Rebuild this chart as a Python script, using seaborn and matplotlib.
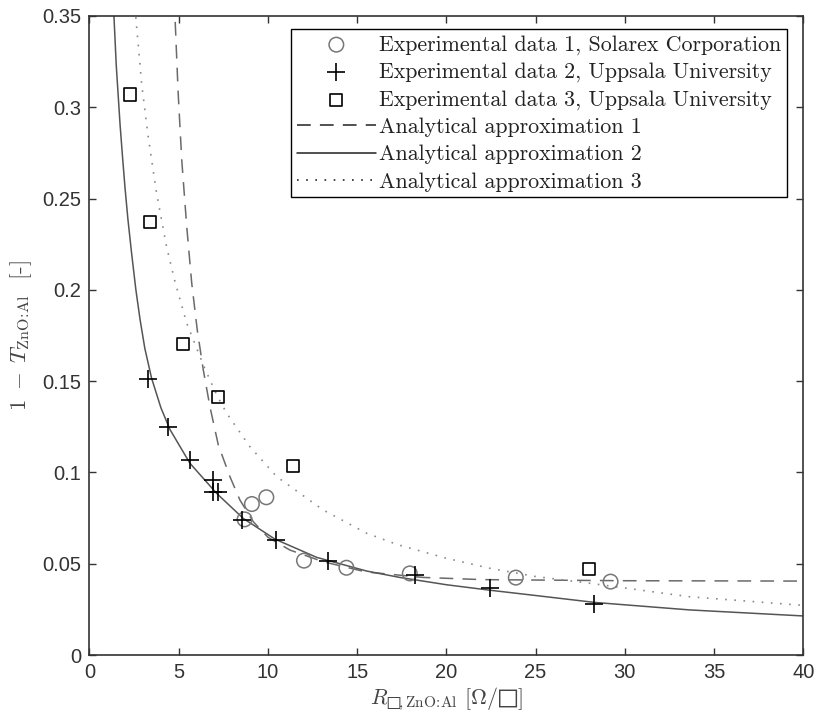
import matplotlib
matplotlib.use("Agg")
import matplotlib.pyplot as plt
import seaborn as sns
import pandas as pd

# Experimental data 1, Solarex Corporation
exp1_r = [8.69, 9.10, 9.91, 12.02, 14.40, 17.95, 23.89, 29.20]
exp1_t = [0.0743, 0.0827, 0.0864, 0.0517, 0.0478, 0.0447, 0.0424, 0.0402]

# Experimental data 2, Uppsala University
exp2_r = [3.27, 4.39, 5.66, 6.92, 6.92, 7.20, 8.54, 10.43, 13.37, 18.23, 22.47, 28.27]
exp2_t = [0.1512, 0.1247, 0.1068, 0.0959, 0.0895, 0.0895, 0.0739, 0.0630, 0.0515,
          0.0438, 0.0365, 0.0279]

# Experimental data 3, Uppsala University
exp3_r = [2.28, 3.40, 5.23, 7.20, 11.40, 28.0]
exp3_t = [0.307, 0.2373, 0.1702, 0.1413, 0.1037, 0.0469]

# Analytical approximation 1
app1_r = [4.70, 4.79, 4.97, 5.17, 5.45, 5.73, 6.04, 6.38, 6.75, 7.22, 7.87, 8.43,
          9.18, 10.0, 11.23, 13.1, 15.5, 18.7, 22.0, 29.9, 35.0, 40.0]
app1_t = [0.375, 0.35, 0.3077, 0.2711, 0.2346, 0.2036, 0.178, 0.156, 0.136, 0.115,
          0.0977, 0.0849, 0.0730, 0.0645, 0.0575, 0.0511, 0.0455, 0.0425, 0.0413,
          0.0407, 0.0406, 0.0405]

# Analytical approximation 2
app2_r = [1.30, 1.37, 1.50, 1.71, 1.85, 1.99, 2.15, 2.36, 2.60, 2.83, 3.10, 3.48,
          4.00, 4.51, 5.63, 7.13, 8.62, 10.39, 12.73, 15.53, 17.39, 20.0, 22.44,
          25.0, 28.32, 33.64, 40.0]
app2_t = [0.366, 0.350, 0.323, 0.291, 0.273, 0.256, 0.239, 0.220, 0.200, 0.184,
          0.168, 0.1516, 0.1355, 0.1235, 0.1050, 0.0885, 0.0748, 0.0635, 0.0535,
          0.0460, 0.0425, 0.0385, 0.0355, 0.0326, 0.0288, 0.0247, 0.0214]

# Analytical approximation 3
app3_r = [2.50, 2.59, 2.92, 3.29, 3.76, 4.32, 4.79, 5.45, 6.38, 7.13, 7.69, 8.99,
          10.49, 13.1, 15.53, 17.25, 20.0, 22.44, 25.0, 28.04, 33.64, 40.0]
app3_t = [0.36, 0.35, 0.3131, 0.2839, 0.2529, 0.2236, 0.2045, 0.1817, 0.1588, 0.1424,
          0.1324, 0.1141, 0.0977, 0.0794, 0.0667, 0.0605, 0.0530, 0.0475, 0.0430,
          0.0393, 0.0319, 0.0272]

x_ticks = [0, 5, 10, 15, 20, 25, 30, 35, 40]
y_ticks = [0, 0.05, 0.1, 0.15, 0.2, 0.25, 0.3, 0.35]
y_tick_labels = ["0", "0.05", "0.1", "0.15", "0.2", "0.25", "0.3", "0.35"]

sns.set_style("ticks")
plt.rcParams["mathtext.fontset"] = "cm"

fig = plt.figure(figsize=(8.18, 7.27), dpi=100)
ax = fig.add_axes([0.1094, 0.099, 0.8726, 0.879])

def frame(r, t):
    return pd.DataFrame({"r": r, "t": t})

sns.lineplot(data=frame(app1_r, app1_t), x="r", y="t", ax=ax, sort=False, estimator=None,
             color="#6a6a6a", lw=1.1, linestyle=(0, (9, 6)), label="Analytical approximation 1")
sns.lineplot(data=frame(app2_r, app2_t), x="r", y="t", ax=ax, sort=False, estimator=None,
             color="#555555", lw=1.1, label="Analytical approximation 2")
sns.lineplot(data=frame(app3_r, app3_t), x="r", y="t", ax=ax, sort=False, estimator=None,
             color="#8a8a8a", lw=1.2, linestyle=(0, (1, 4.5)), label="Analytical approximation 3")

sns.scatterplot(data=frame(exp1_r, exp1_t), x="r", y="t", ax=ax, marker="o", s=110,
                facecolor="none", edgecolor="#777777", linewidth=1.1,
                label="Experimental data 1, Solarex Corporation", zorder=3)
sns.scatterplot(data=frame(exp2_r, exp2_t), x="r", y="t", ax=ax, marker="+", s=150,
                color="black", linewidth=1.2,
                label="Experimental data 2, Uppsala University", zorder=3)
sns.scatterplot(data=frame(exp3_r, exp3_t), x="r", y="t", ax=ax, marker="s", s=75,
                facecolor="none", edgecolor="black", linewidth=1.2,
                label="Experimental data 3, Uppsala University", zorder=3)

ax.set_xlim(0, 40)
ax.set_ylim(0, 0.35)
ax.set_xticks(x_ticks)
ax.set_yticks(y_ticks)
ax.set_yticklabels(y_tick_labels)
ax.tick_params(direction="in", length=5, width=1, top=True, right=True,
               colors="#333333", labelsize=14.5, pad=6)
for lab in ax.get_xticklabels() + ax.get_yticklabels():
    lab.set_fontfamily("Liberation Sans")
    lab.set_color("#333333")
for sp in ax.spines.values():
    sp.set_color("#333333")
    sp.set_linewidth(1.2)
    sp.set_visible(True)

ax.set_xlabel("$R_{\u25a1\\!,\\mathrm{ZnO}\\!:\\!\\mathrm{Al}}$ $[\\Omega/\u25a1]$", fontsize=15.8,
              fontfamily="cmr10", color="#444444", labelpad=2)
ax.set_ylabel(r"$1\;-\;T_{\mathrm{ZnO}\!:\!\mathrm{Al}}$  [-]", fontsize=16.5,
              fontfamily="cmr10", color="#444444", labelpad=6)

handles, labels = ax.get_legend_handles_labels()
order = [3, 4, 5, 0, 1, 2]
leg = ax.legend([handles[i] for i in order], [labels[i] for i in order],
                loc="upper right", bbox_to_anchor=(0.977, 0.979), borderaxespad=0,
                frameon=True, fancybox=False, edgecolor="black", framealpha=1,
                prop={"family": "cmr10", "size": 15.8}, handlelength=3.6,
                handletextpad=0.15, labelspacing=0.35, borderpad=0.25)
leg.get_frame().set_linewidth(1.0)
for t in leg.get_texts():
    t.set_color("#222222")
for ln in leg.get_lines():
    ln.set_color("#222222")

fig.savefig("out.png", dpi=100)
